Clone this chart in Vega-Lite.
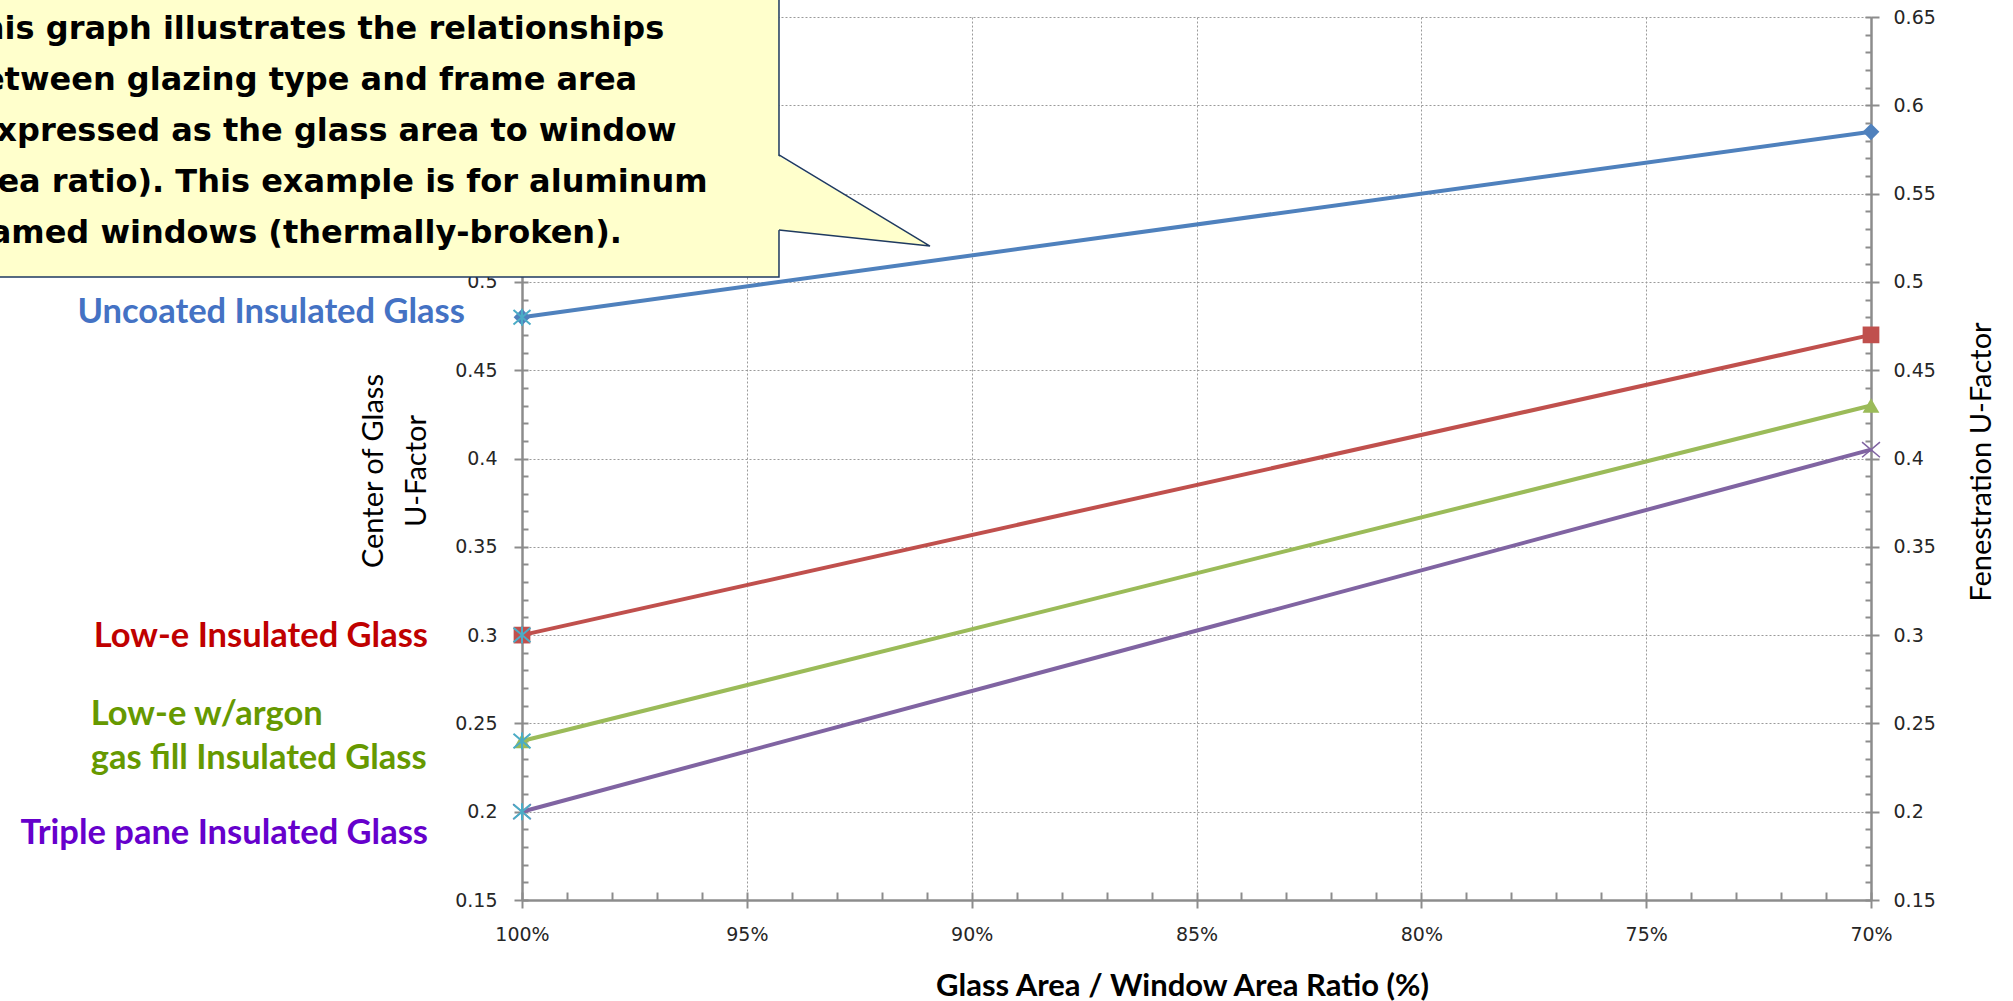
{
  "$schema": "https://vega.github.io/schema/vega-lite/v6.json",
  "width": 1349,
  "height": 883,
  "autosize": {"type": "none"},
  "padding": {"left": 522, "top": 17, "right": 142, "bottom": 101},
  "background": "white",
  "config": {
    "view": {"stroke": null},
    "axis": {
      "domainColor": "#8C8C8C", "domainWidth": 2.5,
      "tickColor": "#8C8C8C", "tickWidth": 2,
      "gridColor": "#9A9A9A", "gridDash": [2, 2], "gridWidth": 1,
      "labelFont": "DejaVu Sans", "labelFontSize": 19, "labelColor": "#262626",
      "labelFlush": false, "labelOverlap": false,
      "titleFont": "Lato", "titleColor": "#000000"
    }
  },
  "datasets": {
    "series": [
      {"series": "Uncoated", "ratio": 100, "u": 0.48},
      {"series": "Uncoated", "ratio": 70, "u": 0.585},
      {"series": "Low-e", "ratio": 100, "u": 0.30},
      {"series": "Low-e", "ratio": 70, "u": 0.47},
      {"series": "Argon", "ratio": 100, "u": 0.24},
      {"series": "Argon", "ratio": 70, "u": 0.43},
      {"series": "Triple", "ratio": 100, "u": 0.20},
      {"series": "Triple", "ratio": 70, "u": 0.405}
    ],
    "labels": [
      {"series": "Uncoated", "text": "Uncoated Insulated Glass", "lx": 101.27, "ly": 0.4823},
      {"series": "Low-e", "text": "Low-e Insulated Glass", "lx": 102.09, "ly": 0.2992},
      {"series": "Argon", "text": "Low-e w/argon", "lx": 109.59, "ly": 0.2546},
      {"series": "Argon", "text": "gas fill Insulated Glass", "lx": 109.59, "ly": 0.2301},
      {"series": "Triple", "text": "Triple pane Insulated Glass", "lx": 102.09, "ly": 0.1875}
    ],
    "titles": [
      {"tx": 103.30, "ty": 0.3929, "text": "Center of Glass"},
      {"tx": 102.34, "ty": 0.3929, "text": "U-Factor"},
      {"tx": 67.54, "ty": 0.398, "text": "Fenestration U-Factor"}
    ],
    "box": [{"bx1": 112.5, "bx2": 94.285, "by1": 0.672, "by2": 0.5028}],
    "tip": [
      {"tx": 94.33, "top": 0.5719, "bot": 0.5294},
      {"tx": 90.927, "top": 0.5203, "bot": 0.5203}
    ],
    "edge": [
      {"k": 1, "ex": 94.285, "ey": 0.5719},
      {"k": 2, "ex": 90.927, "ey": 0.5203},
      {"k": 3, "ex": 94.285, "ey": 0.5294}
    ],
    "note": [
      {"k": 1, "nx": 112.498, "ny": 0.63754, "text": "This graph illustrates the relationships"},
      {"k": 2, "nx": 112.498, "ny": 0.60866, "text": "between glazing type and frame area"},
      {"k": 3, "nx": 112.498, "ny": 0.57978, "text": "(expressed as the glass area to window"},
      {"k": 4, "nx": 112.498, "ny": 0.55091, "text": "area ratio). This example is for aluminum"},
      {"k": 5, "nx": 112.498, "ny": 0.52203, "text": "framed windows (thermally-broken)."}
    ]
  },
  "resolve": {"axis": {"x": "independent", "y": "independent"}},
  "layer": [
    {
      "data": {"name": "series"},
      "mark": {"type": "point", "opacity": 0},
      "encoding": {
        "x": {"field": "ratio", "type": "quantitative",
          "scale": {"domain": [70, 100], "reverse": true, "nice": false, "zero": false},
          "axis": {"orient": "bottom", "values": [100,99,98,97,96,95,94,93,92,91,90,89,88,87,86,85,84,83,82,81,80,79,78,77,76,75,74,73,72,71,70],
            "tickSize": -8, "labels": false, "domain": false, "grid": false, "title": null}},
        "y": {"field": "u", "type": "quantitative",
          "scale": {"domain": [0.15, 0.65], "nice": false, "zero": false},
          "axis": {"orient": "left", "values": [0.15,0.16,0.17,0.18,0.19,0.2,0.21,0.22,0.23,0.24,0.25,0.26,0.27,0.28,0.29,0.3,0.31,0.32,0.33,0.34,0.35,0.36,0.37,0.38,0.39,0.4,0.41,0.42,0.43,0.44,0.45,0.46,0.47,0.48,0.49,0.5,0.51,0.52,0.53,0.54,0.55,0.56,0.57,0.58,0.59,0.6,0.61,0.62,0.63,0.64,0.65],
            "tickSize": -6, "labels": false, "domain": false, "grid": false, "title": null}}
      }
    },
    {
      "data": {"name": "series"},
      "mark": {"type": "point", "opacity": 0},
      "encoding": {
        "x": {"field": "ratio", "type": "quantitative", "axis": null},
        "y": {"field": "u", "type": "quantitative",
          "axis": {"orient": "right", "values": [0.15,0.16,0.17,0.18,0.19,0.2,0.21,0.22,0.23,0.24,0.25,0.26,0.27,0.28,0.29,0.3,0.31,0.32,0.33,0.34,0.35,0.36,0.37,0.38,0.39,0.4,0.41,0.42,0.43,0.44,0.45,0.46,0.47,0.48,0.49,0.5,0.51,0.52,0.53,0.54,0.55,0.56,0.57,0.58,0.59,0.6,0.61,0.62,0.63,0.64,0.65],
            "tickSize": -6, "labels": false, "domain": false, "grid": false, "title": null}}
      }
    },
    {
      "data": {"name": "series"},
      "mark": {"type": "point", "opacity": 0},
      "encoding": {
        "x": {"field": "ratio", "type": "quantitative", "axis": null},
        "y": {"field": "u", "type": "quantitative",
          "axis": {"orient": "right", "values": [0.15,0.2,0.25,0.3,0.35,0.4,0.45,0.5,0.55,0.6,0.65], "format": "~g",
            "tickSize": 8, "labelPadding": 14, "grid": false, "title": null}}
      }
    },
    {
      "data": {"name": "series"},
      "mark": {"type": "line", "strokeWidth": 4},
      "encoding": {
        "x": {"field": "ratio", "type": "quantitative",
          "axis": {"orient": "bottom", "values": [100, 95, 90, 85, 80, 75, 70], "labelExpr": "datum.value + '%'",
            "tickSize": 8, "labelPadding": 26, "labelBaseline": "middle", "grid": true,
            "title": "Glass Area / Window Area Ratio  (%)", "titleFontSize": 31, "titleFontWeight": "bold",
            "titleX": 660, "titleY": 86, "titleAlign": "center", "titleBaseline": "middle"}},
        "y": {"field": "u", "type": "quantitative",
          "axis": {"orient": "left", "values": [0.15,0.2,0.25,0.3,0.35,0.4,0.45,0.5,0.55,0.6,0.65], "format": "~g",
            "tickSize": 8, "labelPadding": 17, "grid": true, "title": null}},
        "color": {"field": "series", "type": "nominal",
          "scale": {"domain": ["Uncoated", "Low-e", "Argon", "Triple"], "range": ["#4F81BD", "#C0504D", "#9BBB59", "#8064A2"]},
          "legend": null}
      }
    },
    {
      "data": {"name": "series"},
      "transform": [{"filter": "datum.series !== 'Triple'"}],
      "mark": {"type": "point", "filled": true, "opacity": 1, "size": 280},
      "encoding": {
        "x": {"field": "ratio", "type": "quantitative", "axis": null},
        "y": {"field": "u", "type": "quantitative", "axis": null},
        "color": {"field": "series", "type": "nominal", "legend": null},
        "shape": {"field": "series", "type": "nominal",
          "scale": {"domain": ["Uncoated", "Low-e", "Argon"], "range": ["diamond", "square", "triangle-up"]},
          "legend": null}
      }
    },
    {
      "data": {"name": "series"},
      "transform": [{"filter": "datum.series === 'Triple'"}],
      "mark": {"type": "point", "filled": false, "opacity": 1, "size": 320, "strokeWidth": 1.5,
        "shape": "M-1,-0.85L1,0.85M-1,0.85L1,-0.85"},
      "encoding": {
        "x": {"field": "ratio", "type": "quantitative", "axis": null},
        "y": {"field": "u", "type": "quantitative", "axis": null},
        "color": {"field": "series", "type": "nominal", "legend": null}
      }
    },
    {
      "data": {"name": "series"},
      "transform": [{"filter": "datum.ratio === 100"}],
      "mark": {"type": "point", "filled": false, "opacity": 1, "size": 290, "strokeWidth": 2, "color": "#4BACC6",
        "shape": "M-1,-0.85L1,0.85M-1,0.85L1,-0.85M0,-1L0,1"},
      "encoding": {
        "x": {"field": "ratio", "type": "quantitative", "axis": null},
        "y": {"field": "u", "type": "quantitative", "axis": null}
      }
    },
    {
      "data": {"name": "titles"},
      "mark": {"type": "text", "angle": 270, "align": "center", "baseline": "middle", "font": "Lato", "fontSize": 29, "color": "#000000"},
      "encoding": {
        "x": {"field": "tx", "type": "quantitative", "axis": null},
        "y": {"field": "ty", "type": "quantitative", "axis": null},
        "text": {"field": "text", "type": "nominal"}
      }
    },
    {
      "data": {"name": "labels"},
      "transform": [{"filter": "datum.series !== 'Argon'"}],
      "mark": {"type": "text", "align": "right", "baseline": "middle", "font": "Lato", "fontWeight": "bold", "fontSize": 34.5},
      "encoding": {
        "x": {"field": "lx", "type": "quantitative", "axis": null},
        "y": {"field": "ly", "type": "quantitative", "axis": null},
        "text": {"field": "text", "type": "nominal"},
        "fill": {"field": "series", "type": "nominal",
          "scale": {"domain": ["Uncoated", "Low-e", "Argon", "Triple"], "range": ["#4472C4", "#C00000", "#669900", "#6600CC"]},
          "legend": null}
      }
    },
    {
      "data": {"name": "labels"},
      "transform": [{"filter": "datum.series === 'Argon'"}],
      "mark": {"type": "text", "align": "left", "baseline": "middle", "font": "Lato", "fontWeight": "bold", "fontSize": 34.5},
      "encoding": {
        "x": {"field": "lx", "type": "quantitative", "axis": null},
        "y": {"field": "ly", "type": "quantitative", "axis": null},
        "text": {"field": "text", "type": "nominal"},
        "fill": {"field": "series", "type": "nominal", "legend": null}
      }
    },
    {
      "data": {"name": "box"},
      "mark": {"type": "rect", "fill": "#FFFFCC", "stroke": "#1F3A60", "strokeWidth": 1.5},
      "encoding": {
        "x": {"field": "bx1", "type": "quantitative", "axis": null},
        "x2": {"field": "bx2"},
        "y": {"field": "by1", "type": "quantitative", "axis": null},
        "y2": {"field": "by2"}
      }
    },
    {
      "data": {"name": "tip"},
      "mark": {"type": "area", "fill": "#FFFFCC", "opacity": 1},
      "encoding": {
        "x": {"field": "tx", "type": "quantitative", "axis": null},
        "y": {"field": "top", "type": "quantitative", "axis": null},
        "y2": {"field": "bot"}
      }
    },
    {
      "data": {"name": "edge"},
      "mark": {"type": "line", "stroke": "#1F3A60", "strokeWidth": 1.5},
      "encoding": {
        "x": {"field": "ex", "type": "quantitative", "axis": null},
        "y": {"field": "ey", "type": "quantitative", "axis": null},
        "order": {"field": "k", "type": "quantitative"}
      }
    },
    {
      "data": {"name": "note"},
      "mark": {"type": "text", "align": "left", "baseline": "alphabetic", "font": "DejaVu Sans", "fontWeight": "bold", "fontSize": 32, "color": "#000000"},
      "encoding": {
        "x": {"field": "nx", "type": "quantitative", "axis": null},
        "y": {"field": "ny", "type": "quantitative", "axis": null},
        "text": {"field": "text", "type": "nominal"}
      }
    }
  ]
}
